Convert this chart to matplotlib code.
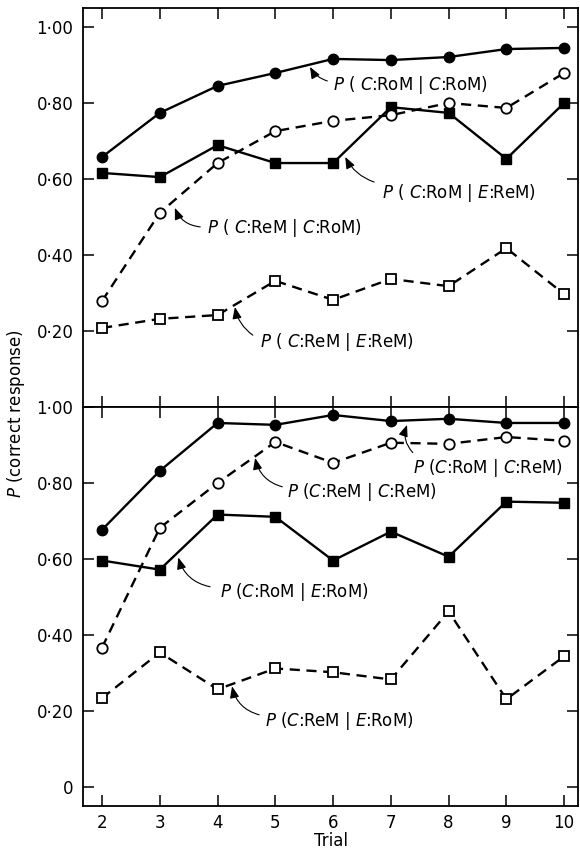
import matplotlib
matplotlib.use("Agg")
import matplotlib.pyplot as plt

plt.rcParams['font.family'] = ['DejaVu Sans']
plt.rcParams['mathtext.fontset'] = 'dejavusans'

# data
trials = [2, 3, 4, 5, 6, 7, 8, 9, 10]

# top panel
top_rom_crom = [0.658, 0.774, 0.845, 0.879, 0.916, 0.913, 0.921, 0.942, 0.945]
top_rom_erem = [0.616, 0.605, 0.689, 0.642, 0.642, 0.789, 0.774, 0.653, 0.800]
top_rem_crom = [0.279, 0.511, 0.642, 0.726, 0.753, 0.768, 0.800, 0.787, 0.879]
top_rem_erem = [0.208, 0.232, 0.242, 0.332, 0.282, 0.337, 0.318, 0.418, 0.297]

# bottom panel
bot_rom_crem = [0.677, 0.832, 0.958, 0.953, 0.979, 0.963, 0.969, 0.958, 0.958]
bot_rem_crem = [0.367, 0.682, 0.800, 0.908, 0.853, 0.906, 0.903, 0.921, 0.911]
bot_rom_erom = [0.596, 0.572, 0.717, 0.711, 0.596, 0.672, 0.606, 0.751, 0.748]
bot_rem_erom = [0.234, 0.354, 0.257, 0.312, 0.302, 0.283, 0.462, 0.231, 0.344]

top_ticks = [0.2, 0.4, 0.6, 0.8, 1.0]
top_ticklabels = ['0\u00b720', '0\u00b740', '0\u00b760', '0\u00b780', '1\u00b700']
bot_ticks = [0.0, 0.2, 0.4, 0.6, 0.8, 1.0]
bot_ticklabels = ['0', '0\u00b720', '0\u00b740', '0\u00b760', '0\u00b780', '1\u00b700']

W, H = 580, 849
fig = plt.figure(figsize=(W / 100, H / 100), dpi=100)
ax1 = fig.add_axes([83 / W, 1 - 407 / H, 495 / W, 399 / H])
ax2 = fig.add_axes([83 / W, 1 - 806 / H, 495 / W, 399 / H], sharex=ax1)

dash = (0, (4.3, 2.8))
lw = 1.7

def solid(ax, y, m, ms):
    ax.plot(trials, y, color='k', lw=lw, marker=m, ms=ms, mfc='k', mec='k', zorder=3)

def dashed(ax, y, m, ms):
    ax.plot(trials, y, color='k', lw=lw, ls=dash, marker=m, ms=ms, mfc='white',
            mec='k', mew=1.3, zorder=4)

solid(ax1, top_rom_crom, 'o', 7.5)
solid(ax1, top_rom_erem, 's', 7)
dashed(ax1, top_rem_crom, 'o', 7.5)
dashed(ax1, top_rem_erem, 's', 7)

solid(ax2, bot_rom_crem, 'o', 7.5)
solid(ax2, bot_rom_erom, 's', 7)
dashed(ax2, bot_rem_crem, 'o', 7.5)
dashed(ax2, bot_rem_erom, 's', 7)

ax1.set_ylim(0, 1.05)
ax2.set_ylim(-0.05, 1.0)
ax1.set_xlim(1.67, 10.24)
ax1.set_xticks(trials)
ax1.set_yticks(top_ticks)
ax1.set_yticklabels(top_ticklabels)
ax2.set_yticks(bot_ticks)
ax2.set_yticklabels(bot_ticklabels)

for ax in (ax1, ax2):
    for s in ax.spines.values():
        s.set_linewidth(1.3)
    ax.tick_params(direction='in', length=8, width=1.1, top=True, right=True,
                   labelsize=12, pad=7)
ax1.tick_params(axis='x', labelbottom=False)
ax2.tick_params(axis='x', pad=6)
ax2.set_xlabel('Trial', fontsize=12, labelpad=0)

fig.text(16 / W, 1 - 414 / H, r'$P$ (correct response)', rotation=90,
         ha='center', va='center', fontsize=12)

# labels with arrows: (axis, text, text pos, arrow tail, arrow tip, rad)
fs = 12
labels = [
    (ax1, r'$P$ ( $C$:RoM | $C$:RoM)', (6.0, 0.847), (5.90, 0.858), (5.60, 0.895), -0.2),
    (ax1, r'$P$ ( $C$:RoM | $E$:ReM)', (6.85, 0.563), (6.71, 0.592), (6.21, 0.658), -0.2),
    (ax1, r'$P$ ( $C$:ReM | $C$:RoM)', (3.82, 0.471), (3.70, 0.474), (3.26, 0.524), -0.3),
    (ax1, r'$P$ ( $C$:ReM | $E$:ReM)', (4.74, 0.171), (4.61, 0.189), (4.30, 0.263), -0.2),
    (ax2, r'$P$ ($C$:RoM | $C$:ReM)', (7.385, 0.840), (7.38, 0.880), (7.28, 0.953), -0.3),
    (ax2, r'$P$ ($C$:ReM | $C$:ReM)', (5.20, 0.777), (5.12, 0.790), (4.65, 0.866), -0.3),
    (ax2, r'$P$ ($C$:RoM | $E$:RoM)', (4.04, 0.514), (3.87, 0.527), (3.32, 0.604), -0.3),
    (ax2, r'$P$ ($C$:ReM | $E$:RoM)', (4.82, 0.173), (4.72, 0.190), (4.25, 0.265), -0.3),
]
for ax, txt, tpos, tail, tip, rad in labels:
    ax.text(tpos[0], tpos[1], txt, fontsize=fs, ha='left', va='center', zorder=5)
    ax.annotate('', xy=tip, xytext=tail,
                arrowprops=dict(arrowstyle='-|>,head_length=0.7,head_width=0.28',
                                connectionstyle='arc3,rad=%s' % rad,
                                color='k', lw=0.8, shrinkA=0, shrinkB=0))

fig.savefig('out.png', dpi=100)
